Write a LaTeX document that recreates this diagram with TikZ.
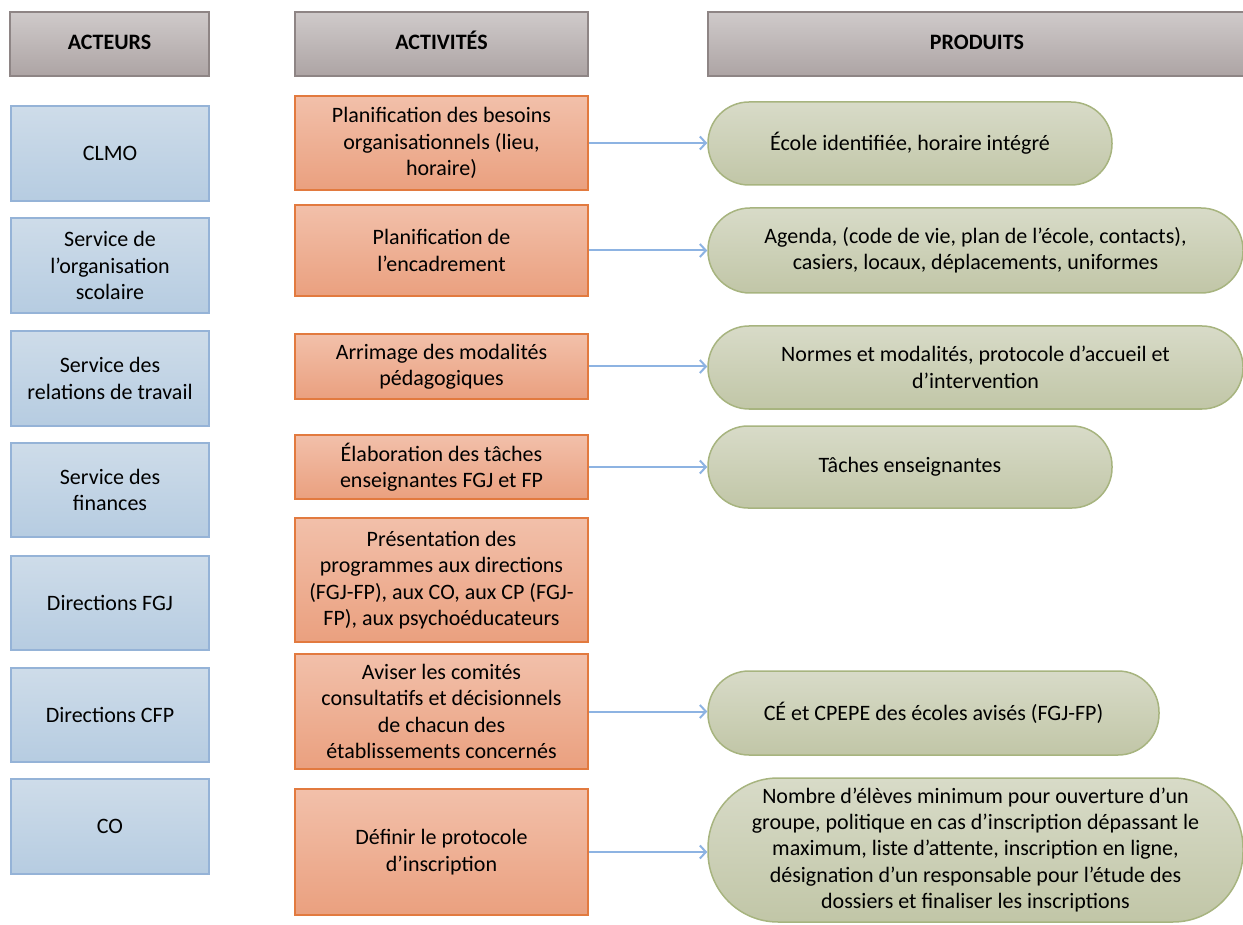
\documentclass[tikz,border=0pt]{standalone}
\usepackage{fontspec}
\setmainfont{Carlito}
\usetikzlibrary{arrows.meta}

\definecolor{hdrTop}{HTML}{CFCACA}
\definecolor{hdrBot}{HTML}{ADA4A4}
\definecolor{hdrLine}{HTML}{8E8585}
\definecolor{actTop}{HTML}{CEDCE9}
\definecolor{actBot}{HTML}{B6CCE1}
\definecolor{actLine}{HTML}{95B3D7}
\definecolor{opTop}{HTML}{F2C0AA}
\definecolor{opBot}{HTML}{EAA07F}
\definecolor{opLine}{HTML}{E27A3F}
\definecolor{prTop}{HTML}{D8DBC8}
\definecolor{prBot}{HTML}{C1C6A7}
\definecolor{prLine}{HTML}{A7B47F}
\definecolor{arrLine}{HTML}{8DB3E2}

\tikzset{
  base/.style={inner sep=0pt, align=center, text=black,
    font=\fontsize{11pt}{13.2pt}\selectfont},
  header/.style={base, draw=hdrLine, line width=0.8pt,
    top color=hdrTop, bottom color=hdrBot,
    font=\fontsize{11pt}{13.2pt}\selectfont\bfseries,
    text height=8pt, text depth=2.5pt, minimum height=32pt},
  actor/.style={base, draw=actLine, line width=0.75pt,
    top color=actTop, bottom color=actBot, minimum width=99pt},
  activity/.style={base, draw=opLine, line width=1pt,
    top color=opTop, bottom color=opBot, minimum width=146.5pt},
  product/.style={base, draw=prLine, line width=0.75pt,
    top color=prTop, bottom color=prBot},
  link/.style={draw=arrLine, line width=1pt,
    -{Straight Barb[length=3pt,width=6.5pt]}},
}

\begin{document}
\begin{tikzpicture}[x=0.5pt,y=-0.5pt]
\useasboundingbox (0,0) rectangle (1243,925);
\clip (0,0) rectangle (1243,925);

% column headers
\node[header, minimum width=99.5pt] (hActeurs) at (109.5,44) {ACTEURS};
\node[header, minimum width=146.5pt] (hActivites) at (441.5,44) {ACTIVITÉS};
\node[header, minimum width=269pt] (hProduits) at (977,44) {PRODUITS};

% actors
\node[actor, minimum height=47.5pt] (a1) at (110,153.5) {CLMO};
\node[actor, minimum height=47.5pt] (a2) at (110,265.5) {Service de\\l’organisation\\scolaire};
\node[actor, minimum height=47.5pt] (a3) at (110,378.5) {Service des\\relations de travail};
\node[actor, minimum height=47pt] (a4) at (110,490) {Service des\\finances};
\node[actor, minimum height=47pt] (a5) at (110,603) {Directions FGJ};
\node[actor, minimum height=47pt] (a6) at (110,715) {Directions CFP};
\node[actor, minimum height=47.5pt] (a7) at (110,826.5) {CO};

% activities
\node[activity, minimum height=47pt] (t1) at (441.5,143) {Planification des besoins\\organisationnels (lieu,\\horaire)};
\node[activity, minimum height=45.5pt] (t2) at (441.5,250.5) {Planification de\\l’encadrement};
\node[activity, minimum height=32.5pt] (t3) at (441.5,366.5) {Arrimage des modalités\\pédagogiques};
\node[activity, minimum height=32pt] (t4) at (441.5,467) {Élaboration des tâches\\enseignantes FGJ et FP};
\node[activity, minimum height=62pt] (t5) at (441.5,580) {Présentation des\\programmes aux directions\\(FGJ-FP), aux CO, aux CP (FGJ-\\FP), aux psychoéducateurs};
\node[activity, minimum height=57.5pt] (t6) at (441.5,711.5) {Aviser les comités\\consultatifs et décisionnels\\de chacun des\\établissements concernés};
\node[activity, minimum height=63pt] (t7) at (441.5,852) {Définir le protocole\\d’inscription};

% products
\node[product, rounded corners=20.5pt, minimum width=202pt, minimum height=41.5pt] (p1) at (910,143.5) {École identifiée, horaire intégré};
\node[product, rounded corners=21pt, minimum width=267.5pt, minimum height=42.5pt] (p2) at (975.5,250.5) {Agenda, (code de vie, plan de l’école, contacts),\\casiers, locaux, déplacements, uniformes};
\node[product, rounded corners=20.5pt, minimum width=267.5pt, minimum height=41.5pt] (p3) at (975.5,367.5) {Normes et modalités, protocole d’accueil et\\d’intervention};
\node[product, rounded corners=20pt, minimum width=202pt, minimum height=41pt] (p4) at (910,467) {Tâches enseignantes};
\node[product, rounded corners=20.5pt, minimum width=225.5pt, minimum height=42pt] (p6) at (933.5,713) {CÉ et CPEPE des écoles avisés (FGJ-FP)};
\node[product, rounded corners=35pt, minimum width=267.5pt, minimum height=72pt] (p7) at (975.5,850) {Nombre d’élèves minimum pour ouverture d’un\\groupe, politique en cas d’inscription dépassant le\\maximum, liste d’attente, inscription en ligne,\\désignation d’un responsable pour l’étude des\\dossiers et finaliser les inscriptions};

% links from activities to products
\draw[link] (t1.east) -- (t1.east -| p1.west);
\draw[link] (t2.east) -- (t2.east -| p2.west);
\draw[link] (t3.east) -- (t3.east -| p3.west);
\draw[link] (t4.east) -- (t4.east -| p4.west);
\draw[link] (t6.east) -- (t6.east -| p6.west);
\draw[link] (t7.east) -- (t7.east -| p7.west);
\end{tikzpicture}
\end{document}
